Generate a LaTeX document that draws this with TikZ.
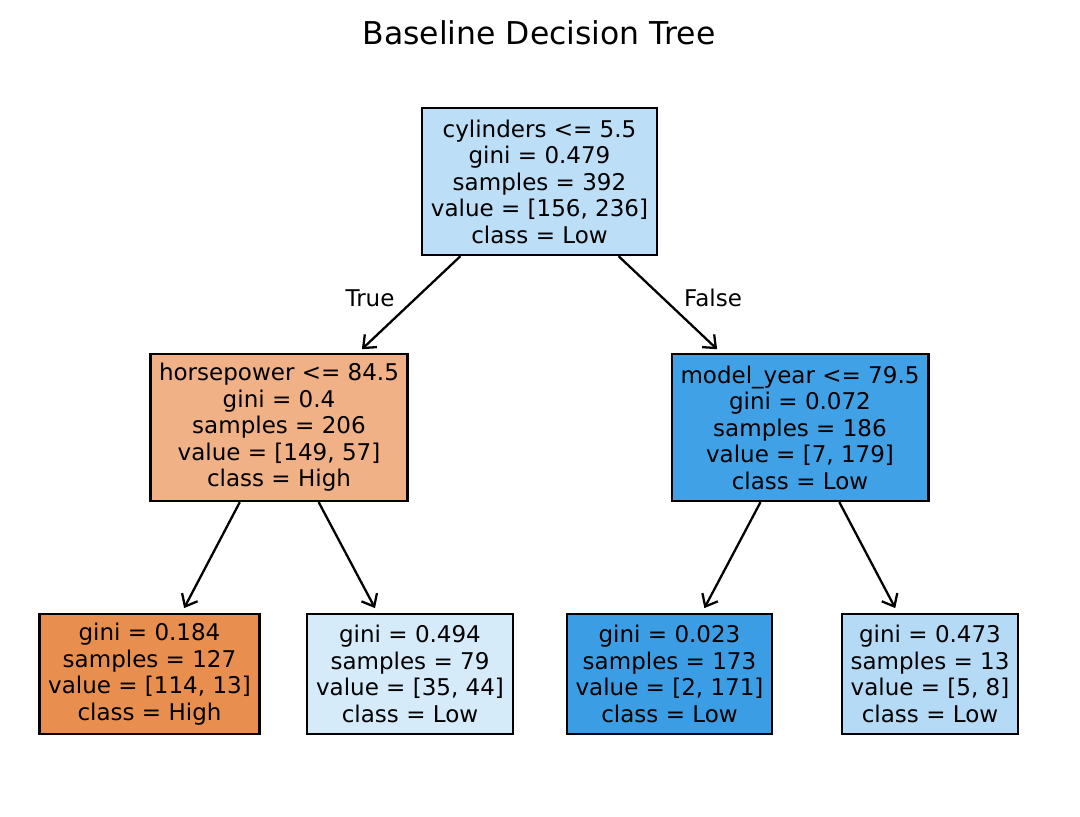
\documentclass[tikz,border=0pt]{standalone}
\usepackage{fontspec}
\setmainfont{DejaVu Sans}
\usetikzlibrary{arrows.meta}
\definecolor{rootcol}{RGB}{188,222,246}
\definecolor{hpcol}{RGB}{239,177,133}
\definecolor{yearcol}{RGB}{65,161,230}
\definecolor{leafacol}{RGB}{232,143,80}
\definecolor{leafbcol}{RGB}{214,235,250}
\definecolor{leafccol}{RGB}{59,158,229}
\definecolor{leafdcol}{RGB}{181,218,245}
\begin{document}
\begin{tikzpicture}[
		x={(0.02cm,0cm)},
		y={(0cm,-0.02cm)},
		box/.style={draw=black,line width=1.4pt,align=center,inner xsep=5pt,font=\fontsize{13.1}{15.1}\selectfont},
		split/.style={box,minimum height=83.6pt},
		leaf/.style={box,minimum height=68.3pt},
		edge/.style={-{Straight Barb[length=6pt,width=10pt]},line width=1.3pt,shorten >=3pt},
		lab/.style={font=\fontsize{13.1}{15.1}\selectfont},
	]
		\useasboundingbox (0,0) rectangle (1080,817);
		\node (title) at (539,33) {\fontsize{17.9}{21}\selectfont Baseline Decision Tree};
		
		\node[split,fill=rootcol] (root) at (539.5,181.5) {cylinders <= 5.5\\gini = 0.479\\samples = 392\\value = [156, 236]\\class = Low};
		\node[split,fill=hpcol] (hp) at (279,427.5) {horsepower <= 84.5\\gini = 0.4\\samples = 206\\value = [149, 57]\\class = High};
		\node[split,fill=yearcol] (year) at (800,427.5) {model\_year <= 79.5\\gini = 0.072\\samples = 186\\value = [7, 179]\\class = Low};
		
		\node[leaf,fill=leafacol] (leafa) at (149.5,674) {gini = 0.184\\samples = 127\\value = [114, 13]\\class = High};
		\node[leaf,fill=leafbcol] (leafb) at (410,674) {gini = 0.494\\samples = 79\\value = [35, 44]\\class = Low};
		\node[leaf,fill=leafccol] (leafc) at (669.5,674) {gini = 0.023\\samples = 173\\value = [2, 171]\\class = Low};
		\node[leaf,fill=leafdcol] (leafd) at (930,674) {gini = 0.473\\samples = 13\\value = [5, 8]\\class = Low};
		
		\foreach \a/\b in {root/hp, root/year, hp/leafa, hp/leafb, year/leafc, year/leafd}{
			\draw[edge] (\a) -- (\b);
		}
		
		\node[lab] (true) at (370,298) {True};
		\node[lab] (false) at (713,298) {False};
	\end{tikzpicture}
\end{document}
